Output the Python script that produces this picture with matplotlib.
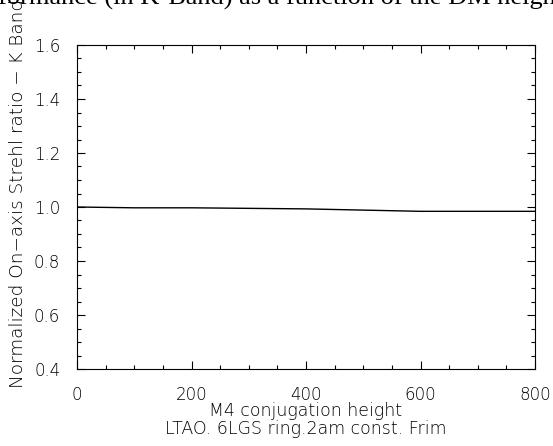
import matplotlib.pyplot as plt
from matplotlib.ticker import MultipleLocator

# M4 conjugation height vs normalized Strehl ratio
heights = [0, 100, 200, 400, 600, 800]
strehl = [1.0, 0.997, 0.997, 0.993, 0.984, 0.984]

title_text = 'Performance (in K-Band) as a function of the DM height'
x_label = 'M4 conjugation height'
sub_label = 'LTAO. 6LGS ring.2am const. Frim'
y_label = 'Normalized On\u2212axis Strehl ratio \u2212 K Band'


def main():
    fig = plt.figure(figsize=(5.53, 4.46), dpi=100)
    ax = fig.add_axes([77 / 553, 1 - 369 / 446, (535 - 77) / 553, (369 - 45) / 446])
    ax.plot(heights, strehl, color='black', linewidth=1.0)
    ax.set_xlim(0, 800)
    ax.set_ylim(0.4, 1.6)
    ax.xaxis.set_major_locator(MultipleLocator(200))
    ax.xaxis.set_minor_locator(MultipleLocator(50))
    ax.yaxis.set_major_locator(MultipleLocator(0.2))
    ax.yaxis.set_minor_locator(MultipleLocator(0.05))
    ax.yaxis.set_major_formatter(lambda v, p: '%.1f' % v)
    ax.tick_params(which='both', direction='in', top=True, right=True,
                   labelsize=12, width=0.8, colors='black')
    ax.tick_params(which='major', length=6, pad=12)
    ax.tick_params(which='minor', length=3)
    for lab in ax.get_xticklabels() + ax.get_yticklabels():
        lab.set_fontweight('light')
    for s in ax.spines.values():
        s.set_linewidth(0.8)
    cx = (77 + 535) / 2 / 553
    fig.text(cx, 1 - 411 / 446, x_label, fontsize=12.5, fontweight='light',
             ha='center', va='center')
    fig.text(cx, 1 - 429 / 446, sub_label, fontsize=12.5, fontweight='light',
             ha='center', va='center')
    fig.text(18 / 553, 1 - 193 / 446, y_label, rotation=90, fontsize=13.2,
             fontweight='light', ha='center', va='center')
    fig.text(-37 / 553, 1 - 5 / 446, title_text, fontsize=19,
             family='Liberation Serif', ha='left', va='baseline')
    fig.savefig('out.png', dpi=100)
    return


if __name__ == '__main__':
    main()
